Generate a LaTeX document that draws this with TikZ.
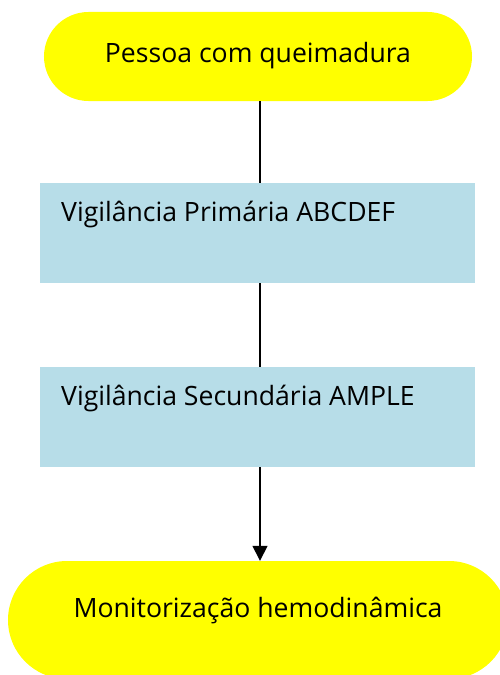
\documentclass[tikz,border=0pt]{standalone}
\usepackage{fontspec}
\setmainfont{Open Sans}
\usetikzlibrary{arrows.meta}
\definecolor{stadyellow}{RGB}{255,255,0}
\definecolor{boxblue}{RGB}{183,221,232}
\begin{document}
\begin{tikzpicture}[x=1bp,y=-1bp,
  every node/.style={font=\fontsize{26.7}{32}\selectfont},
  stadium/.style={fill=stadyellow, draw=none, inner sep=0pt},
  stepbox/.style={fill=boxblue, draw=none, minimum width=435bp, minimum height=100bp, inner sep=0pt},
  txt/.style={anchor=base west, inner sep=0pt},
  conn/.style={line width=1.5bp, black}]
\useasboundingbox (0,0) rectangle (500,675);
\begin{scope}
\clip (0,0) rectangle (500,675);
\node[stadium, minimum width=428bp, minimum height=89bp, rounded corners=44.5bp] (top) at (258,56.5) {};
\node[inner sep=0pt, anchor=base] (ttop) at (258,63) {Pessoa com queimadura};
\node[stepbox] (b1) at (257.5,233) {};
\node[txt] (t1) at (61,221.5) {Vigilância Primária ABCDEF};
\node[stepbox] (b2) at (257.5,417) {};
\node[txt] (t2) at (61,405.5) {Vigilância Secundária AMPLE};
\node[stadium, minimum width=500bp, minimum height=118bp, rounded corners=59bp] (bot) at (258,620) {};
\node[inner sep=0pt, anchor=base] (tbot) at (258,617) {Monitorização hemodinâmica};
\end{scope}
\draw[conn] (top.south -| 260,0) -- (b1.north -| 260,0);
\draw[conn] (b1.south -| 260,0) -- (b2.north -| 260,0);
\draw[conn, -{Triangle[length=15bp,width=15bp]}] (b2.south -| 260,0) -- (bot.north -| 260,0);
\end{tikzpicture}
\end{document}
